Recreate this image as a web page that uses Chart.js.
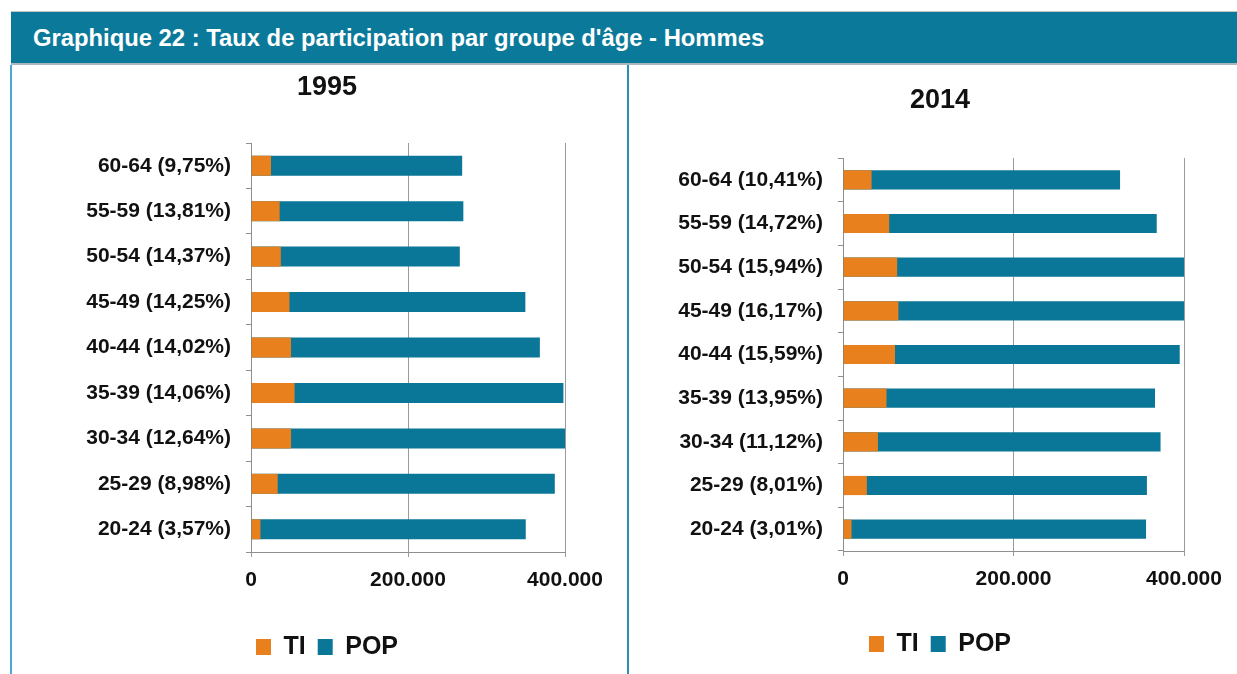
<!DOCTYPE html>
<html lang="fr">
<head>
<meta charset="utf-8">
<title>Graphique 22</title>
<script src="https://cdn.jsdelivr.net/npm/chart.js@4.4.1/dist/chart.umd.min.js"></script>
<style>
    body { margin: 0; width: 1237px; height: 674px; background: #fff; position: relative; overflow: hidden; font-family: "Liberation Sans", Arial, sans-serif; }
    #entete { position: absolute; left: 11px; top: 11px; width: 1226px; height: 54px; box-sizing: border-box; background: #0b7a9a; border-top: 1px solid #c4c4c4; border-bottom: 2px solid #a8b8be; color: #fff; font-weight: bold; font-size: 23.8px; line-height: 52px; padding-left: 22px; white-space: nowrap; }
    #bordGauche { position: absolute; left: 10px; top: 65px; width: 2px; height: 609px; background: #4aaad2; }
    #separateur { position: absolute; left: 627px; top: 65px; width: 2px; height: 609px; background: #2d8fb8; }
    canvas { position: absolute; top: 64px; }
    #graph1995 { left: 28px; }
    #graph2014 { left: 643px; }
</style>
</head>
<body>
<div id="entete">Graphique 22 : Taux de participation par groupe d'âge - Hommes</div>
<div id="bordGauche"></div>
<div id="separateur"></div>
<canvas id="graph1995" width="598" height="610"></canvas>
<canvas id="graph2014" width="594" height="610"></canvas>
<script>
// Données (effectifs, hommes)
const series = ['TI', 'POP'];
const couleurs = ['#e8801e', '#0a7799'];

const etiquettes1995 = ['60-64 (9,75%)', '55-59 (13,81%)', '50-54 (14,37%)', '45-49 (14,25%)', '40-44 (14,02%)',
    '35-39 (14,06%)', '30-34 (12,64%)', '25-29 (8,98%)', '20-24 (3,57%)'];
const ti1995 = [25500, 36500, 38000, 49000, 51000, 55500, 51000, 34000, 12000];
const pop1995 = [269000, 270500, 266000, 349500, 368000, 398000, 402000, 387000, 350000];

const etiquettes2014 = ['60-64 (10,41%)', '55-59 (14,72%)', '50-54 (15,94%)', '45-49 (16,17%)', '40-44 (15,59%)',
    '35-39 (13,95%)', '30-34 (11,12%)', '25-29 (8,01%)', '20-24 (3,01%)'];
const ti2014 = [33500, 54200, 63500, 65000, 61000, 51000, 41000, 28000, 10000];
const pop2014 = [325000, 368000, 402500, 402000, 395000, 366000, 372500, 356500, 355500];

const ticksX = [0, 200000, 400000];

const police = '"Liberation Sans", Arial, sans-serif';

function formatMilliers(v) {
    return String(v).replace(/\B(?=(\d{3})+(?!\d))/g, '.');
}

function creerGraphique(id, annee, etiquettes, ti, pop, reglage) {
    const ctx = document.getElementById(id).getContext('2d');
    return new Chart(ctx, {
        type: 'bar',
        data: {
            labels: etiquettes,
            datasets: [
                { label: series[0], data: ti, backgroundColor: couleurs[0], borderWidth: 0 },
                { label: series[1], data: pop, backgroundColor: couleurs[1], borderWidth: 0 }
            ]
        },
        options: {
            indexAxis: 'y',
            responsive: false,
            animation: false,
            devicePixelRatio: 1,
            categoryPercentage: 1,
            barPercentage: 0.44,
            layout: { padding: { left: 0, right: 0, top: 0, bottom: reglage.bas } },
            plugins: {
                tooltip: { enabled: false },
                title: {
                    display: true,
                    text: annee,
                    color: '#111',
                    font: { family: police, size: 27, weight: 'bold' },
                    padding: reglage.titre
                },
                legend: {
                    position: 'bottom',
                    labels: {
                        boxWidth: 15,
                        boxHeight: 16,
                        padding: 12,
                        color: '#111',
                        font: { family: police, size: 25, weight: 'bold' }
                    }
                }
            },
            scales: {
                x: {
                    stacked: false,
                    min: 0,
                    max: 400000,
                    afterBuildTicks: scale => { scale.ticks = ticksX.map(v => ({ value: v })); },
                    afterFit: scale => {
                        // marge droite réglée ici pour garder le titre centré sur le canvas
                        scale.height = reglage.hauteurX;
                        scale.paddingLeft = 0;
                        scale.paddingRight = reglage.droite;
                    },
                    grid: { color: '#9a9a9a', lineWidth: 1, tickLength: 5, drawTicks: true },
                    border: { color: '#8f8f8f', width: 1 },
                    ticks: {
                        padding: 11,
                        maxRotation: 0,
                        color: '#111',
                        font: { family: police, size: 21, weight: 'bold' },
                        callback: v => formatMilliers(v)
                    }
                },
                y: {
                    stacked: true,
                    afterFit: scale => {
                        scale.width = reglage.largeurY;
                        scale.paddingTop = 0;
                        scale.paddingBottom = 0;
                    },
                    grid: { drawOnChartArea: false, drawTicks: true, tickLength: 5, color: '#8f8f8f', offset: true },
                    border: { color: '#8f8f8f', width: 1 },
                    ticks: {
                        autoSkip: false,
                        padding: 15,
                        color: '#111',
                        font: { family: police, size: 21, weight: 'bold' }
                    }
                }
            }
        }
    });
}

creerGraphique('graph1995', '1995', etiquettes1995, ti1995, pop1995, {
    droite: 61, largeurY: 223, bas: 4.5, hauteurX: 70.5, titre: { top: 7.8, bottom: 38.8 }
});
creerGraphique('graph2014', '2014', etiquettes2014, ti2014, pop2014, {
    droite: 53, largeurY: 200, bas: 7.5, hauteurX: 68.5, titre: { top: 20.8, bottom: 40.8 }
});
</script>
</body>
</html>
